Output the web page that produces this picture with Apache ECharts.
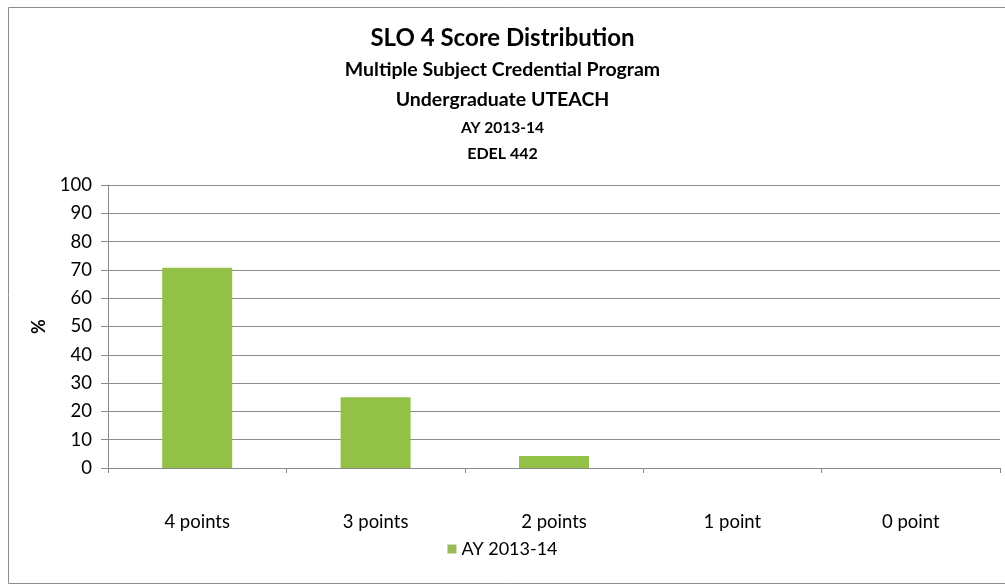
<!doctype html>
<html>
<head>
    <meta charset="utf-8">
    <title>SLO 4 Score Distribution</title>
    <style>
        body { margin: 0; background: #fff; }
        #chart { width: 1005px; height: 586px; }
    </style>
</head>
<body>
    <div id="chart"></div>
    <script src="https://cdn.jsdelivr.net/npm/echarts@6/dist/echarts.min.js"></script>
    <script>
        var titles = ['SLO 4 Score Distribution', 'Multiple Subject Credential Program',
            'Undergraduate UTEACH', 'AY 2013-14', 'EDEL 442'];
        var categories = ['4 points', '3 points', '2 points', '1 point', '0 point'];
        var values = [70.8, 25.0, 4.2, 0, 0];
        var seriesName = 'AY 2013-14';

        var font = 'Lato, "Open Sans", sans-serif';
        var titleTops = [21, 55, 85, 115, 141];
        var titleSizes = [24, 19.5, 19.5, 15.5, 16];
        var titleList = titles.map(function (t, i) {
            return {
                text: t,
                left: 'center',
                top: titleTops[i],
                textStyle: { fontFamily: font, fontSize: titleSizes[i], fontWeight: 'bold', color: '#000' }
            };
        });

        var myChart = echarts.init(document.getElementById('chart'));
        var option = {
            animation: false,
            title: titleList,
            graphic: [{
                type: 'rect',
                shape: { x: 8.5, y: 7.5, width: 1010, height: 576 },
                style: { fill: 'none', stroke: '#8c8c8c', lineWidth: 1 }
            }],
            grid: { left: 108, right: 5, top: 185, bottom: 118 },
            legend: {
                bottom: 23,
                left: 'center',
                itemWidth: 9,
                itemHeight: 9,
                itemGap: 4,
                textStyle: { fontFamily: font, fontSize: 18, color: '#000' },
                data: [{ name: seriesName, icon: 'rect', itemStyle: { color: '#9bbb59' } }]
            },
            xAxis: {
                type: 'category',
                data: categories,
                axisLine: { lineStyle: { color: '#888' } },
                axisTick: { show: true, lineStyle: { color: '#888' } },
                axisLabel: { fontFamily: font, fontSize: 18.5, color: '#000', margin: 45 }
            },
            yAxis: {
                type: 'value',
                min: 0,
                max: 100,
                interval: 10,
                name: '%',
                nameLocation: 'middle',
                nameGap: 60,
                nameRotate: 90,
                nameTextStyle: { fontFamily: font, fontSize: 18, fontWeight: 'bold', color: '#000' },
                axisLine: { show: true, lineStyle: { color: '#888' } },
                axisTick: { show: true, length: 7, lineStyle: { color: '#888' } },
                axisLabel: { fontFamily: font, fontSize: 18.5, color: '#000', margin: 16 },
                splitLine: { lineStyle: { color: '#8c8c8c' } }
            },
            series: [{
                name: seriesName,
                type: 'bar',
                data: values,
                barWidth: 70,
                itemStyle: { color: '#93c047', borderWidth: 0 }
            }]
        };
        myChart.setOption(option);
    </script>
</body>
</html>
